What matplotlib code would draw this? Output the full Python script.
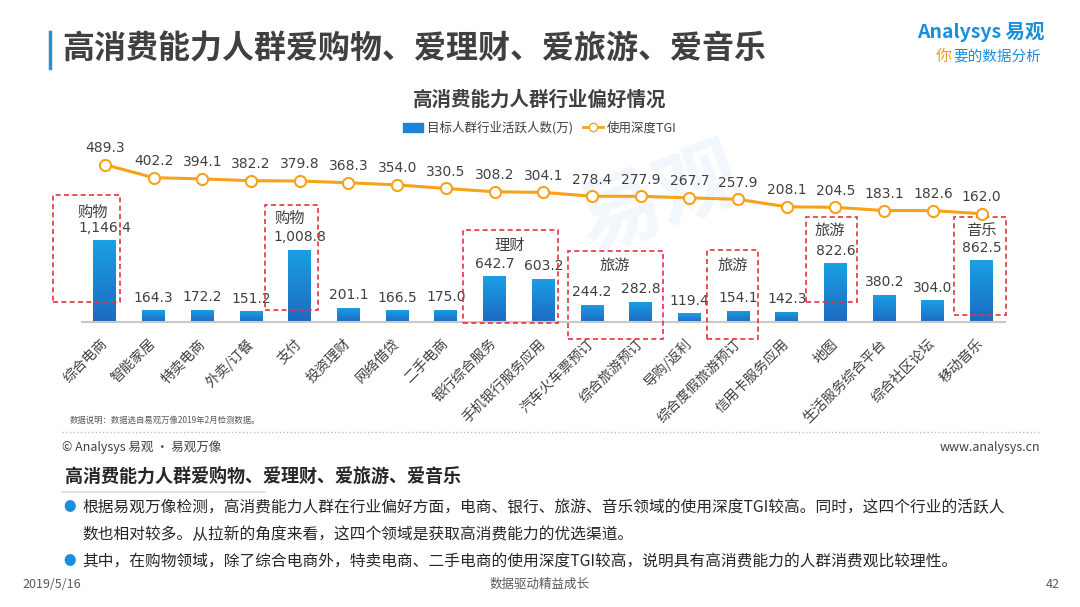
import matplotlib.pyplot as plt
import numpy as np
from matplotlib.patches import Rectangle, Patch
from matplotlib.lines import Line2D
from matplotlib.colors import LinearSegmentedColormap

plt.rcParams['font.family'] = ['Noto Sans CJK SC', 'DejaVu Sans']

# 数据
categories = ['综合电商', '智能家居', '特卖电商', '外卖/订餐', '支付', '投资理财', '网络借贷',
              '二手电商', '银行综合服务', '手机银行服务应用', '汽车火车票预订', '综合旅游预订',
              '导购/返利', '综合度假旅游预订', '信用卡服务应用', '地图', '生活服务综合平台',
              '综合社区论坛', '移动音乐']
active_users = [1146.4, 164.3, 172.2, 151.2, 1008.8, 201.1, 166.5, 175.0, 642.7, 603.2,
                244.2, 282.8, 119.4, 154.1, 142.3, 822.6, 380.2, 304.0, 862.5]
tgi = [489.3, 402.2, 394.1, 382.2, 379.8, 368.3, 354.0, 330.5, 308.2, 304.1,
       278.4, 277.9, 267.7, 257.9, 208.1, 204.5, 183.1, 182.6, 162.0]
box_labels = ['购物', '购物', '理财', '旅游', '旅游', '旅游', '音乐']

# 标注框位置 (x0, x1, y0, y1, 标签x, 标签y)
box_layout = [(-1.07, 0.31, 280, 1778, -0.25, 1540),
              (3.29, 4.37, 168, 1638, 3.8, 1456),
              (7.35, 9.30, -14, 1288, 8.32, 1078),
              (9.51, 11.46, -238, 994, 10.47, 798),
              (12.36, 13.41, -238, 1008, 12.9, 798),
              (14.39, 15.44, 280, 1470, 14.89, 1288),
              (17.43, 18.5, 98, 1470, 18.0, 1288)]

W, H = 1080, 607


def px(x, y):
    return x / W, 1 - y / H


fig = plt.figure(figsize=(10.8, 6.07), dpi=100)
fig.patch.set_facecolor('white')

# 主标题
fig.add_artist(Line2D([50 / W, 50 / W], [1 - 32 / H, 1 - 68 / H], color='#2b8fd6', lw=2.5))
fig.text(*px(62, 50), '高消费能力人群爱购物、爱理财、爱旅游、爱音乐', fontsize=23,
         fontweight='bold', color='#404040', va='center', ha='left')

# logo
fig.text(*px(1045, 32), 'Analysys 易观', fontsize=14, color='#1a8fdc', ha='right',
         va='center', fontweight='bold')
fig.text(*px(953, 56), '要的数据分析', fontsize=10.5, color='#1a8fdc', ha='left',
         va='center', style='italic')
fig.text(*px(952, 56), '你', fontsize=11.5, color='#f39a1e', ha='right', va='center')

# 图表标题
fig.text(*px(540, 100), '高消费能力人群行业偏好情况', fontsize=14, fontweight='bold',
         color='#404040', ha='center', va='center')

# 水印
fig.text(*px(660, 200), '易观', fontsize=60, color='#f1f7fc', ha='center', va='center',
         rotation=20, fontweight='bold', zorder=-1)

ax = fig.add_axes([82 / W, 1 - 322 / H, 923 / W, 192 / H])
ax.set_facecolor('none')
x = np.arange(len(categories))
bars = ax.bar(x, active_users, width=0.47, facecolor='none', edgecolor='none', zorder=2)

cmap = LinearSegmentedColormap.from_list('bl', ['#1d6ac2', '#1aa0e4'])
grad = np.linspace(0, 1, 100).reshape(-1, 1)
for b in bars:
    x0, w, h = b.get_x(), b.get_width(), b.get_height()
    im = ax.imshow(grad, extent=[x0, x0 + w, 0, h], origin='lower', cmap=cmap,
                   aspect='auto', zorder=2)
    im.set_clip_path(b)

for xi, v in zip(x, active_users):
    ax.annotate(f'{v:,.1f}', (xi, v), xytext=(0, 4), textcoords='offset points',
                ha='center', va='bottom', fontsize=10, color='#404040', family=['DejaVu Sans'])

ax.set_xlim(-0.47, 18.48)
ax.set_ylim(0, 2688)
ax.set_yticks([])
for s in ['top', 'right', 'left']:
    ax.spines[s].set_visible(False)
ax.spines['bottom'].set_color('#c8c8c8')
ax.spines['bottom'].set_linewidth(1.5)
ax.set_xticks(x)
ax.set_xticklabels(categories, rotation=45, ha='right', va='center', rotation_mode='anchor',
                   fontsize=10, color='#404040')
ax.tick_params(axis='x', length=0, pad=14)

# 标注框
for lab, (x0, x1, y0, y1, lx, ly) in zip(box_labels, box_layout):
    ax.add_patch(Rectangle((x0, y0), x1 - x0, y1 - y0, fill=False, edgecolor='#e5333f',
                           lw=1.2, ls=(0, (3, 2)), clip_on=False, zorder=3))
    ax.text(lx, ly, lab, ha='center', va='center', fontsize=11, color='#404040')

ax2 = ax.twinx()
ax2.plot(x, tgi, color='#f5a31a', lw=2.2, marker='o', ms=8, mfc='white', mec='#f5a31a',
         mew=1.5, zorder=4)
for xi, v in zip(x, tgi):
    ax2.annotate(f'{v:.1f}', (xi, v), xytext=(0, 7), textcoords='offset points',
                 ha='center', va='bottom', fontsize=10, color='#404040', family=['DejaVu Sans'])
ax2.set_ylim(-560, 720)
ax2.set_yticks([])
for s in ax2.spines.values():
    s.set_visible(False)

handles = [Patch(color='#1a84d6'),
           Line2D([], [], color='#f5a31a', lw=2, marker='o', ms=6, mfc='white', mec='#f5a31a')]
fig.legend(handles, ['目标人群行业活跃人数(万)', '使用深度TGI'], loc='center',
           bbox_to_anchor=px(540, 128), ncol=2, frameon=False, fontsize=9,
           handlelength=1.6, handletextpad=0.3, columnspacing=0.8, labelcolor='#404040')

# 数据说明与页脚
fig.text(*px(70, 420), '数据说明：数据选自易观万像2019年2月检测数据。', fontsize=6,
         color='#595959', va='center')
fig.add_artist(Line2D([62 / W, 1040 / W], [1 - 432 / H, 1 - 432 / H], color='#bfbfbf',
                      lw=1, ls=':'))
fig.text(*px(62, 447), '© Analysys 易观 · 易观万像', fontsize=9, color='#404040', va='center')
fig.text(*px(1040, 447), 'www.analysys.cn', fontsize=9, color='#404040', va='center',
         ha='right')

fig.text(*px(65, 476), '高消费能力人群爱购物、爱理财、爱旅游、爱音乐', fontsize=13,
         fontweight='bold', color='#262626', va='center')
fig.add_artist(Line2D([62 / W, 265 / W], [1 - 492 / H, 1 - 492 / H], color='#e0e0e0', lw=1.2))

bullets = [(508, '根据易观万像检测，高消费能力人群在行业偏好方面，电商、银行、旅游、音乐领域的使用深度TGI较高。同时，这四个行业的活跃人'),
           (562, '其中，在购物领域，除了综合电商外，特卖电商、二手电商的使用深度TGI较高，说明具有高消费能力的人群消费观比较理性。')]
for y, t in bullets:
    fig.text(*px(70, y), '●', fontsize=9, color='#1a8fdc', va='center', ha='center')
    fig.text(*px(82, y), t, fontsize=11.3, color='#262626', va='center')
fig.text(*px(82, 534), '数也相对较多。从拉新的角度来看，这四个领域是获取高消费能力的优选渠道。',
         fontsize=11.3, color='#262626', va='center')

fig.text(*px(22, 584), '2019/5/16', fontsize=9, color='#595959', va='center')
fig.text(*px(540, 584), '数据驱动精益成长', fontsize=9, color='#595959', va='center',
         ha='center')
fig.text(*px(1060, 584), '42', fontsize=9, color='#595959', va='center', ha='right')

fig.savefig('out.png', dpi=100)
